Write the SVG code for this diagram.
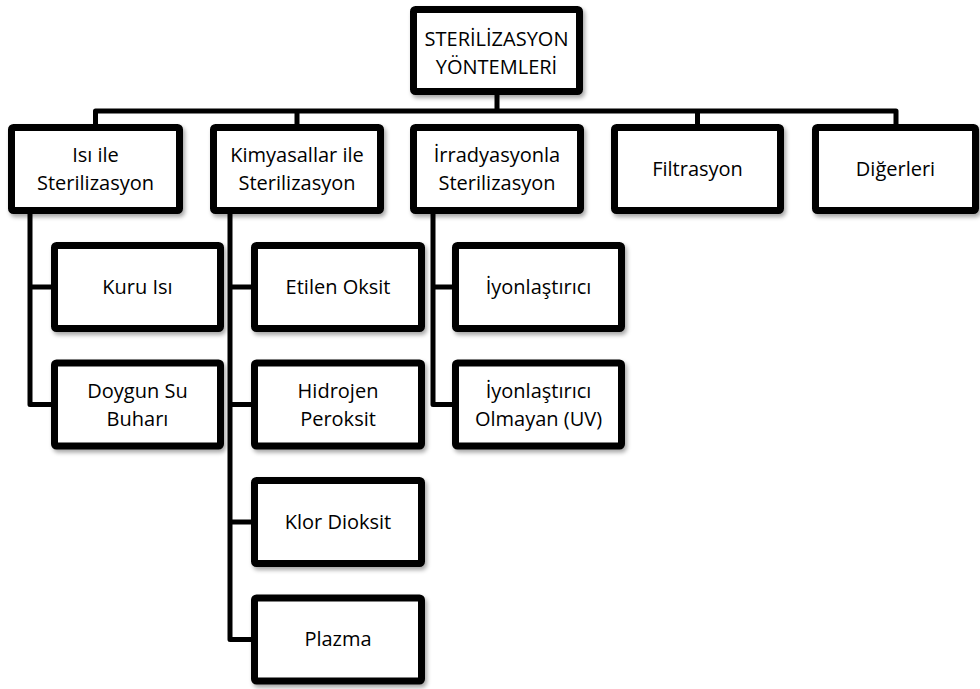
<svg xmlns="http://www.w3.org/2000/svg" width="980" height="689" viewBox="0 0 980 689">
<defs>
<filter id="sh" x="-10%" y="-10%" width="125%" height="130%">
<feDropShadow dx="2" dy="3" stdDeviation="2" flood-color="#000" flood-opacity="0.35"/>
</filter>
<style>
.box{fill:#fff;stroke:#000;stroke-width:7;filter:url(#sh)}
.t{font-family:"Open Sans","Liberation Sans",sans-serif;font-size:20px;fill:#000;text-anchor:middle}
.c{fill:none;stroke:#000;stroke-width:5;stroke-linejoin:round}
</style>
</defs>
<rect width="980" height="689" fill="#fff"/>
<g id="connectors">
<path class="c" d="M497 95V111M95.5 124V111H896V124M297 111V124M697.5 111V124"/>
<path class="c" d="M30 214V404.5H52M30 287H52"/>
<path class="c" d="M230 214V639.5H252M230 287H252M230 404.5H252M230 522H252"/>
<path class="c" d="M433 214V404.5H453M433 287H453"/>
</g>
<g id="root"><rect class="box" x="413.5" y="9.5" width="166" height="82" rx="2"/>
<text class="t" x="496.5" y="46">STERİLİZASYON</text><text class="t" x="496.5" y="74">YÖNTEMLERİ</text></g>
<g id="isi"><rect class="box" x="11.5" y="127.5" width="168" height="83" rx="2"/>
<text class="t" x="95.5" y="162">Isı ile</text><text class="t" x="95.5" y="190">Sterilizasyon</text></g>
<g id="kimya"><rect class="box" x="213.5" y="127.5" width="167" height="83" rx="2"/>
<text class="t" x="297" y="162">Kimyasallar ile</text><text class="t" x="297" y="190">Sterilizasyon</text></g>
<g id="irr"><rect class="box" x="413.5" y="127.5" width="167" height="83" rx="2"/>
<text class="t" x="497" y="162">İrradyasyonla</text><text class="t" x="497" y="190">Sterilizasyon</text></g>
<g id="filtr"><rect class="box" x="614.5" y="127.5" width="166" height="83" rx="2"/>
<text class="t" x="697.5" y="176">Filtrasyon</text></g>
<g id="diger"><rect class="box" x="815.5" y="127.5" width="160" height="83" rx="2"/>
<text class="t" x="895.5" y="176">Diğerleri</text></g>
<g id="kuru"><rect class="box" x="54.5" y="245.5" width="166" height="83" rx="2"/>
<text class="t" x="137.5" y="294">Kuru Isı</text></g>
<g id="doygun"><rect class="box" x="54.5" y="363" width="166" height="83" rx="2"/>
<text class="t" x="137.5" y="398">Doygun Su</text><text class="t" x="137.5" y="426">Buharı</text></g>
<g id="etilen"><rect class="box" x="254.5" y="245.5" width="167" height="83" rx="2"/>
<text class="t" x="338" y="294">Etilen Oksit</text></g>
<g id="hidrojen"><rect class="box" x="254.5" y="363" width="167" height="83" rx="2"/>
<text class="t" x="338" y="398">Hidrojen</text><text class="t" x="338" y="426">Peroksit</text></g>
<g id="klor"><rect class="box" x="254.5" y="480.5" width="167" height="83" rx="2"/>
<text class="t" x="338" y="529">Klor Dioksit</text></g>
<g id="plazma"><rect class="box" x="254.5" y="598" width="167" height="83" rx="2"/>
<text class="t" x="338" y="646">Plazma</text></g>
<g id="iyon"><rect class="box" x="455.5" y="245.5" width="166" height="83" rx="2"/>
<text class="t" x="538.5" y="294">İyonlaştırıcı</text></g>
<g id="iyon-uv"><rect class="box" x="455.5" y="363" width="166" height="83" rx="2"/>
<text class="t" x="538.5" y="398">İyonlaştırıcı</text><text class="t" x="538.5" y="426">Olmayan (UV)</text></g>
</svg>
